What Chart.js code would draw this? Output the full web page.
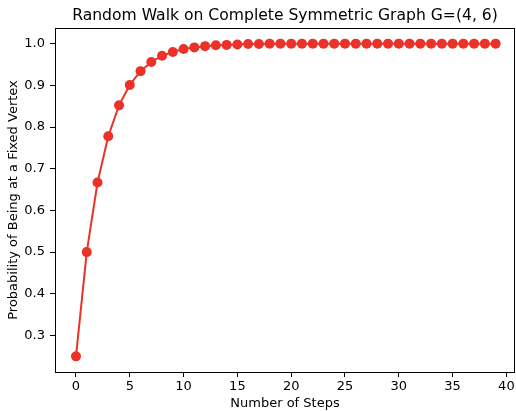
<!DOCTYPE html>
<html>
<head>
<meta charset="utf-8">
<script src="https://cdn.jsdelivr.net/npm/chart.js@4"></script>
<style>
  html, body { margin: 0; padding: 0; background: #fff; }
  #wrap { width: 516px; height: 411px; }
</style>
</head>
<body>
<div id="wrap"><canvas id="walk"></canvas></div>
<script>
// steps and probability of being at the fixed vertex
const steps = [0, 1, 2, 3, 4, 5, 6, 7, 8, 9, 10, 11, 12, 13, 14, 15, 16, 17, 18, 19,
               20, 21, 22, 23, 24, 25, 26, 27, 28, 29, 30, 31, 32, 33, 34, 35, 36, 37, 38, 39];
const prob = [0.25, 0.5, 0.667, 0.778, 0.852, 0.901, 0.934, 0.956, 0.971, 0.980,
              0.987, 0.991, 0.994, 0.996, 0.997, 0.998, 0.999, 0.999, 1.0, 1.0,
              1.0, 1.0, 1.0, 1.0, 1.0, 1.0, 1.0, 1.0, 1.0, 1.0,
              1.0, 1.0, 1.0, 1.0, 1.0, 1.0, 1.0, 1.0, 1.0, 1.0];
const xTicks = [0, 5, 10, 15, 20, 25, 30, 35, 40];
const yTicks = [0.3, 0.4, 0.5, 0.6, 0.7, 0.8, 0.9, 1.0];
const titleText = 'Random Walk on Complete Symmetric Graph G=(4, 6)';

const red = '#ec3228';
const font = 'DejaVu Sans';

// matplotlib-like box around the plot area, title centred over it
const frame = {
    id: 'frame',
    afterDraw(chart) {
        const a = chart.chartArea;
        const c = chart.ctx;
        c.save();
        c.strokeStyle = '#000';
        c.lineWidth = 1;
        c.strokeRect(Math.round(a.left) + 0.5, Math.round(a.top) + 0.5,
                     Math.round(a.right - a.left) - 1, Math.round(a.bottom - a.top));
        c.fillStyle = '#000';
        c.font = '15.6px "' + font + '"';
        c.textAlign = 'center';
        c.textBaseline = 'alphabetic';
        c.fillText(titleText, (a.left + a.right) / 2, a.top - 8);
        c.restore();
    }
};

const ctx = document.getElementById('walk').getContext('2d');
const chart = new Chart(ctx, {
    type: 'line',
    data: {
        datasets: [{
            data: steps.map((s, i) => ({ x: s, y: prob[i] })),
            borderColor: red,
            backgroundColor: red,
            borderWidth: 2,
            pointRadius: 5,
            pointHoverRadius: 5,
            pointBorderWidth: 0,
            tension: 0
        }]
    },
    plugins: [frame],
    options: {
        responsive: true,
        maintainAspectRatio: false,
        animation: false,
        layout: {
            autoPadding: false,
            padding: { left: 0, right: 1, top: 28, bottom: 0 }
        },
        scales: {
            x: {
                type: 'linear',
                min: -1.95,
                max: 40.8,
                afterBuildTicks: (scale) => {
                    scale.ticks = xTicks.map(v => ({ value: v }));
                },
                afterFit: (scale) => {
                    scale.height = 39;
                    scale.paddingLeft = 0;
                    scale.paddingRight = 0;
                },
                grid: {
                    drawOnChartArea: false,
                    drawTicks: true,
                    tickLength: 5,
                    tickColor: '#000'
                },
                border: { display: false },
                ticks: {
                    color: '#000',
                    padding: 2,
                    maxRotation: 0,
                    font: { family: font, size: 13 },
                    callback: (v) => String(v)
                },
                title: {
                    display: true,
                    text: 'Number of Steps',
                    color: '#000',
                    padding: { top: 0, bottom: 0 },
                    font: { family: font, size: 13 }
                }
            },
            y: {
                type: 'linear',
                min: 0.2125,
                max: 1.0375,
                afterBuildTicks: (scale) => {
                    scale.ticks = yTicks.map(v => ({ value: v }));
                },
                afterFit: (scale) => { scale.width = 55; },
                grid: {
                    drawOnChartArea: false,
                    drawTicks: true,
                    tickLength: 5,
                    tickColor: '#000'
                },
                border: { display: false },
                ticks: {
                    color: '#000',
                    padding: 5,
                    font: { family: font, size: 13 },
                    callback: (v) => v.toFixed(1)
                },
                title: {
                    display: true,
                    text: 'Probability of Being at a Fixed Vertex',
                    color: '#000',
                    padding: { top: 6, bottom: 0 },
                    font: { family: font, size: 13 }
                }
            }
        },
        plugins: {
            legend: { display: false },
            tooltip: { enabled: false },
            title: { display: false }
        }
    }
});
</script>
</body>
</html>
